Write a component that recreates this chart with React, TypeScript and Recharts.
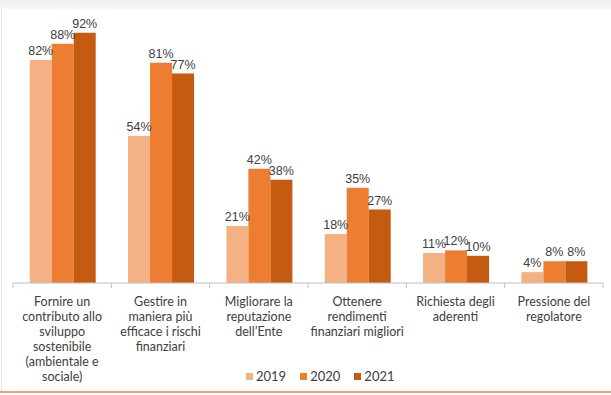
import React from "react";
import { BarChart, Bar, XAxis, YAxis, LabelList, Legend } from "recharts";

// categorie (già spezzate in righe come nell'originale)
const categorie = [
  ["Fornire un", "contributo allo", "sviluppo", "sostenibile", "(ambientale e", "sociale)"],
  ["Gestire in", "maniera più", "efficace i rischi", "finanziari"],
  ["Migliorare la", "reputazione", "dell’Ente"],
  ["Ottenere", "rendimenti", "finanziari migliori"],
  ["Richiesta degli", "aderenti"],
  ["Pressione del", "regolatore"],
];

const valori2019 = [82, 54, 21, 18, 11, 4];
const valori2020 = [88, 81, 42, 35, 12, 8];
const valori2021 = [92, 77, 38, 27, 10, 8];

const serie = [
  { key: "y2019", nome: "2019", colore: "#F4B183" },
  { key: "y2020", nome: "2020", colore: "#ED7D31" },
  { key: "y2021", nome: "2021", colore: "#C55A11" },
];

const data = categorie.map((righe, i) => ({
  cat: righe.join(" "),
  righe,
  y2019: valori2019[i],
  y2020: valori2020[i],
  y2021: valori2021[i],
}));

const W = 611;
const H = 395;
const LEFT = 13;
const RIGHT = 8;
const BAND = (W - LEFT - RIGHT) / categorie.length;

const CategoryTick = (props: any) => {
  const { x, y, index } = props;
  const righe = categorie[index] || [];
  return (
    <g>
      <line x1={x - BAND / 2} x2={x - BAND / 2} y1={y} y2={y + 5} stroke="#BFBFBF" />
      {index === categorie.length - 1 && (
        <line x1={x + BAND / 2} x2={x + BAND / 2} y1={y} y2={y + 5} stroke="#BFBFBF" />
      )}
      <text
        x={x}
        y={y + 23}
        textAnchor="middle"
        fontFamily="Lato, sans-serif"
        fontSize={12.5}
        fill="#404040"
      >
        {righe.map((r: string, k: number) => (
          <tspan key={k} x={x} dy={k === 0 ? 0 : 15}>
            {r}
          </tspan>
        ))}
      </text>
    </g>
  );
};

const LegendaCustom = () => (
  <div style={{ display: "flex", gap: 14, fontFamily: "Lato, sans-serif", fontSize: 13, color: "#404040" }}>
    {serie.map((s) => (
      <div key={s.key} style={{ display: "flex", alignItems: "center" }}>
        <span style={{ width: 7, height: 7, background: s.colore, marginRight: 3, display: "inline-block" }} />
        {s.nome}
      </div>
    ))}
  </div>
);

export default function App() {
  return (
    <div style={{ position: "absolute", left: 0, top: 0, width: W, height: H, background: "#fff" }}>
      <div style={{ position: "absolute", left: 0, top: 0, width: W, height: 9, background: "linear-gradient(#eeeeee, #f8f8f8)" }} />
      <div style={{ position: "absolute", left: 1, top: 9, width: 1, height: H - 12, background: "#FBE3D3" }} />
      <div style={{ position: "absolute", left: 0, top: 391, width: W, height: 2, background: "#F4A26A" }} />
      <div style={{ position: "absolute", left: 0, top: 0 }}>
        <BarChart
          width={W}
          height={H}
          data={data}
          margin={{ top: 11, right: RIGHT, bottom: 0, left: LEFT }}
          barCategoryGap="17%"
          barGap={0}
        >
          <XAxis
            dataKey="cat"
            height={112}
            interval={0}
            tickLine={false}
            tickSize={0}
            tickMargin={0}
            axisLine={{ stroke: "#BFBFBF" }}
            tick={<CategoryTick />}
          />
          <YAxis hide domain={[0, 100]} />
          <Legend
            layout="horizontal"
            verticalAlign="middle"
            align="center"
            wrapperStyle={{ top: 368, left: 246, width: 160, height: 18 }}
            content={<LegendaCustom />}
          />
          {serie.map((s) => (
            <Bar key={s.key} dataKey={s.key} name={s.nome} fill={s.colore} isAnimationActive={false}>
              <LabelList
                dataKey={s.key}
                position="top"
                offset={5}
                formatter={(v: any) => `${v}%`}
                style={{ fontFamily: "Liberation Sans, Arial, sans-serif", fontSize: 12.5, fill: "#404040" }}
              />
            </Bar>
          ))}
        </BarChart>
      </div>
    </div>
  );
}
